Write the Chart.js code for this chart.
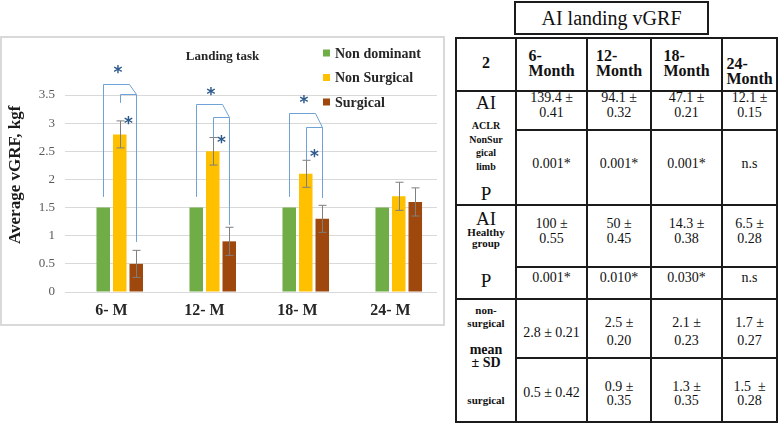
<!DOCTYPE html>
<html>
<head>
<meta charset="utf-8">
<script src="https://cdn.jsdelivr.net/npm/chart.js@4.4.1/dist/chart.umd.min.js"></script>
<style>
  html, body { margin: 0; padding: 0; background: #fff; width: 778px; height: 423px; overflow: hidden; position: relative; font-family: 'Liberation Serif', 'Times New Roman', serif; }
  #marco { position: absolute; left: 0; top: 36px; width: 445px; height: 290px; border: 2px solid #d9d9d9; box-sizing: border-box; }
  #contenedor { position: absolute; left: 0; top: 0; width: 445px; height: 330px; }
  #tituloTabla { position: absolute; left: 514px; top: 1px; width: 195px; height: 34px; border: 2px solid #1b1b1b; box-sizing: border-box; text-align: center; font-size: 20px; line-height: 30px; color: #111; }
  #tabla { position: absolute; left: 456px; top: 38px; width: 321px; height: 384px; }
  .celda { position: absolute; box-sizing: border-box; border: 2px solid #1b1b1b; color: #111; }
  .linea { position: absolute; left: 0; width: 100%; text-align: center; white-space: nowrap; }
</style>
</head>
<body>
<div id="marco"></div>
<div id="contenedor"><canvas id="grafico"></canvas></div>
<div id="tituloTabla">AI landing vGRF</div>
<div id="tabla"></div>
<script>
// ---- datos del grafico ----
const categorias = ['6- M', '12- M', '18- M', '24- M'];
const noDominante = [1.5, 1.5, 1.5, 1.5];
const noQuirurgico = [2.8, 2.5, 2.1, 1.7];
const quirurgico = [0.5, 0.9, 1.3, 1.6];
const errNoQuirurgico = [0.24, 0.245, 0.24, 0.25];
const errQuirurgico = [0.24, 0.25, 0.24, 0.25];

// corchetes de significancia (valores en el eje y)
const corcheteExterno = [3.70, 3.34, 3.18];
const corcheteInterno = [3.52, 3.11, 2.93];
const baseIzquierda = [1.69, 1.69, 1.69];
const baseDerecha = [0.89, 1.19, 1.67];
const baseMedio = [3.36, 2.74, 2.34];
const estrellaExterna = [3.98, 3.59, 3.45];
const estrellaInterna = [3.07, 2.74, 2.49];

const serif = "'Liberation Serif', 'Times New Roman', serif";

// Dibuja barras de error, corchetes, leyenda y titulos
const extras = {
    id: 'extras',
    afterDatasetsDraw(chart) {
        const ctx = chart.ctx;
        const area = chart.chartArea;
        const y = chart.scales.y;
        const metaVerde = chart.getDatasetMeta(1);
        const metaAmarillo = chart.getDatasetMeta(2);
        const metaCafe = chart.getDatasetMeta(3);

        // barras de error
        ctx.save();
        ctx.strokeStyle = '#7f7f7f';
        ctx.lineWidth = 1;
        [[metaAmarillo, noQuirurgico, errNoQuirurgico], [metaCafe, quirurgico, errQuirurgico]].forEach(([meta, valores, errores]) => {
            meta.data.forEach((barra, i) => {
                const x = Math.round(barra.x) + 0.5;
                const arriba = y.getPixelForValue(valores[i] + errores[i]);
                const abajo = y.getPixelForValue(valores[i] - errores[i]);
                ctx.beginPath();
                ctx.moveTo(x, arriba); ctx.lineTo(x, abajo);
                ctx.moveTo(x - 4, arriba); ctx.lineTo(x + 4, arriba);
                ctx.moveTo(x - 4, abajo); ctx.lineTo(x + 4, abajo);
                ctx.stroke();
            });
        });

        // corchetes
        ctx.strokeStyle = '#6fa3d8';
        corcheteExterno.forEach((v, i) => {
            const xg = Math.round(metaVerde.data[i].x) + 0.5;
            const xa = Math.round(metaAmarillo.data[i].x) + 0.5;
            const xc = Math.round(metaCafe.data[i].x) + 0.5;
            const yE = Math.round(y.getPixelForValue(v)) + 0.5;
            const yI = Math.round(y.getPixelForValue(corcheteInterno[i])) + 0.5;
            ctx.beginPath();
            ctx.moveTo(xg, y.getPixelForValue(baseIzquierda[i]));
            ctx.lineTo(xg, yE);
            ctx.lineTo(xc - 7, yE);
            ctx.lineTo(xc, yI);
            ctx.lineTo(xc, y.getPixelForValue(baseDerecha[i]));
            ctx.moveTo(xa, y.getPixelForValue(baseMedio[i]));
            ctx.lineTo(xa, yI);
            ctx.lineTo(xc, yI);
            ctx.stroke();

            ctx.fillStyle = '#2e5a8c';
            ctx.font = "bold 17px 'DejaVu Sans'";
            ctx.textAlign = 'center';
            ctx.textBaseline = 'alphabetic';
            ctx.fillText('*', (xg + xc) / 2 - 2, y.getPixelForValue(estrellaExterna[i]) + 10);
            ctx.fillText('*', (xa + xc) / 2, y.getPixelForValue(estrellaInterna[i]) + 10);
        });

        // titulo del grafico
        ctx.fillStyle = '#262626';
        ctx.font = 'bold 13px ' + serif;
        ctx.textAlign = 'center';
        ctx.textBaseline = 'middle';
        ctx.fillText('Landing task', chart.width / 2, area.top - 38);

        // leyenda
        ctx.font = 'bold 14px ' + serif;
        ctx.textAlign = 'left';
        [1, 2, 3].forEach((d, k) => {
            const ds = chart.data.datasets[d];
            const yy = area.top - 42 + k * 24.5;
            ctx.fillStyle = ds.backgroundColor;
            ctx.fillRect(area.right - 114, yy - 3.5, 7, 7);
            ctx.fillStyle = '#262626';
            ctx.fillText(ds.label, area.right - 102, yy + 1);
        });

        // titulo del eje y
        ctx.translate(16, area.top + (area.bottom - area.top) * 0.405);
        ctx.rotate(-Math.PI / 2);
        ctx.font = 'bold 17px ' + serif;
        ctx.textAlign = 'center';
        ctx.fillStyle = '#1a1a1a';
        ctx.fillText('Average vGRF, kgf', 0, 0);
        ctx.restore();
    }
};

new Chart(document.getElementById('grafico'), {
    type: 'bar',
    data: {
        labels: categorias,
        datasets: [
            { label: '', data: categorias.map(() => null), backgroundColor: 'rgba(0,0,0,0)' },
            { label: 'Non dominant', data: noDominante, backgroundColor: '#70ad47' },
            { label: 'Non Surgical', data: noQuirurgico, backgroundColor: '#ffc000' },
            { label: 'Surgical', data: quirurgico, backgroundColor: '#9e480e' }
        ]
    },
    options: {
        responsive: true,
        maintainAspectRatio: false,
        animation: false,
        categoryPercentage: 0.71,
        barPercentage: 0.82,
        layout: { padding: { left: 0, right: 8, top: 95, bottom: 0 } },
        plugins: { legend: { display: false }, tooltip: { enabled: false } },
        scales: {
            x: {
                grid: { display: false, drawTicks: false },
                border: { display: false },
                ticks: { color: '#262626', font: { family: serif, size: 16, weight: 'bold' }, padding: 9 },
                afterFit(scale) { scale.height = 38; }
            },
            y: {
                min: 0,
                max: 3.5,
                ticks: {
                    stepSize: 0.5,
                    color: '#595959',
                    font: { family: serif, size: 13 },
                    padding: 10,
                    callback: v => String(Number(v.toFixed(1)))
                },
                grid: { color: '#d9d9d9', drawTicks: false },
                border: { display: false },
                afterFit(scale) { scale.width = 65; }
            }
        }
    },
    plugins: [extras]
});

// ---- tabla lateral ----
const colsTabla = [0, 60, 131, 195, 266, 321];
const filasTabla = [0, 53, 92, 167, 229, 261, 320, 384];

const celdas = [
    [0, 1, 0, 1, [['2', 24, 16, 1]]],
    [1, 2, 0, 1, [['6-', 17, 16, 1], ['Month', 32, 16, 1]], true],
    [2, 3, 0, 1, [['12-', 17, 16, 1], ['Month', 32, 16, 1]], true],
    [3, 4, 0, 1, [['18-', 17, 16, 1], ['Month', 32, 16, 1]], true],
    [4, 5, 0, 1, [['24-', 25, 16, 1], ['Month', 40, 16, 1]], true],
    [0, 1, 1, 3, [['AI', 64, 19, 0], ['ACLR', 88, 10, 1], ['NonSur', 102, 10, 1], ['gical', 115, 10, 1], ['limb', 129, 10, 1], ['P', 155, 19, 0]]],
    [0, 1, 3, 5, [['AI', 180, 19, 0], ['Healthy', 194, 11, 1], ['group', 205, 11, 1], ['P', 242, 19, 0]]],
    [0, 1, 5, 7, [['non-', 272, 11, 1], ['surgical', 285, 11, 1], ['mean', 311, 14, 1], ['± SD', 324, 14, 1], ['surgical', 362, 11, 1]]],
    [1, 2, 1, 2, [['139.4 ±', 59, 14], ['0.41', 74, 14]]],
    [2, 3, 1, 2, [['94.1 ±', 59, 14], ['0.32', 74, 14]]],
    [3, 4, 1, 2, [['47.1 ±', 59, 14], ['0.21', 74, 14]]],
    [4, 5, 1, 2, [['12.1 ±', 59, 14], ['0.15', 74, 14]]],
    [1, 2, 2, 3, [['0.001*', 125, 14]]],
    [2, 3, 2, 3, [['0.001*', 125, 14]]],
    [3, 4, 2, 3, [['0.001*', 125, 14]]],
    [4, 5, 2, 3, [['n.s', 125, 14]]],
    [1, 2, 3, 4, [['100 ±', 185, 14], ['0.55', 200, 14]]],
    [2, 3, 3, 4, [['50 ±', 185, 14], ['0.45', 200, 14]]],
    [3, 4, 3, 4, [['14.3 ±', 185, 14], ['0.38', 200, 14]]],
    [4, 5, 3, 4, [['6.5 ±', 185, 14], ['0.28', 200, 14]]],
    [1, 2, 4, 5, [['0.001*', 239, 14]]],
    [2, 3, 4, 5, [['0.010*', 239, 14]]],
    [3, 4, 4, 5, [['0.030*', 239, 14]]],
    [4, 5, 4, 5, [['n.s', 239, 14]]],
    [1, 2, 5, 6, [['2.8 ± 0.21', 294, 14]]],
    [2, 3, 5, 6, [['2.5 ±', 284, 14], ['0.20', 302, 14]]],
    [3, 4, 5, 6, [['2.1 ±', 284, 14], ['0.23', 302, 14]]],
    [4, 5, 5, 6, [['1.7 ±', 284, 14], ['0.27', 302, 14]]],
    [1, 2, 6, 7, [['0.5 ± 0.42', 354, 14]]],
    [2, 3, 6, 7, [['0.9 ±', 348, 14], ['0.35', 362, 14]]],
    [3, 4, 6, 7, [['1.3 ±', 348, 14], ['0.35', 362, 14]]],
    [4, 5, 6, 7, [['1.5\u00a0 ±', 348, 14], ['0.28', 362, 14]]]
];

const tabla = document.getElementById('tabla');
celdas.forEach(([c0, c1, r0, r1, lineas, bloque]) => {
    const x0 = colsTabla[c0], x1 = colsTabla[c1], y0 = filasTabla[r0], y1 = filasTabla[r1];
    const d = document.createElement('div');
    d.className = 'celda';
    d.style.left = (x0 - 1) + 'px';
    d.style.top = (y0 - 1) + 'px';
    d.style.width = (x1 - x0 + 2) + 'px';
    d.style.height = (y1 - y0 + 2) + 'px';
    if (bloque) {
        // encabezado: lineas alineadas a la izquierda dentro de un bloque centrado
        const s = document.createElement('div');
        s.className = 'linea';
        s.style.top = (lineas[0][1] - (y0 + 1) - 7.5) + 'px';
        s.style.font = 'bold 16px ' + serif;
        s.style.lineHeight = '15px';
        s.innerHTML = '<span style="display:inline-block;text-align:left">' + lineas.map(l => l[0]).join('<br>') + '</span>';
        d.appendChild(s);
    } else {
        lineas.forEach(([texto, yc, tam, negrita]) => {
            const lh = Math.round(tam * 1.2);
            const s = document.createElement('div');
            s.className = 'linea';
            s.style.top = (yc - (y0 + 1) - lh / 2) + 'px';
            s.style.font = (negrita ? 'bold ' : '') + tam + 'px ' + serif;
            s.style.lineHeight = lh + 'px';
            s.textContent = texto;
            d.appendChild(s);
        });
    }
    tabla.appendChild(d);
});
</script>
</body>
</html>
